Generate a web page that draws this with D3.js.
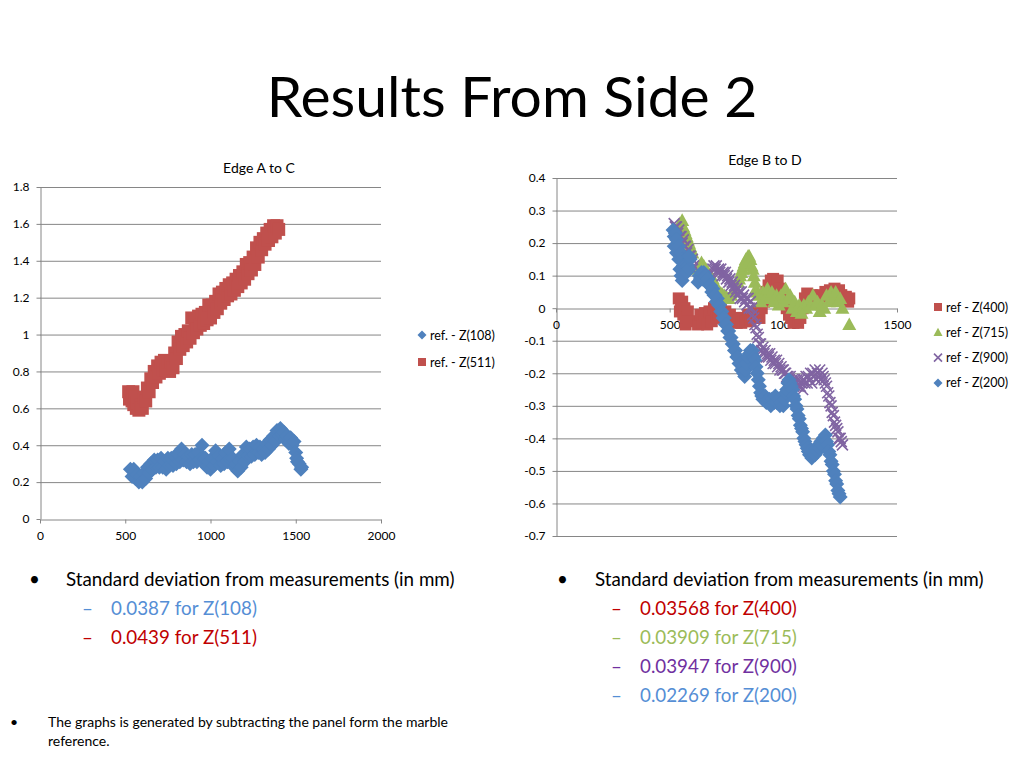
<!DOCTYPE html>
<html lang="en">
<head>
<meta charset="UTF-8">
<title>Results From Side 2</title>
<script src="https://d3js.org/d3.v7.min.js"></script>
<style>
  html, body { margin: 0; background: #fff; }
  svg { display: block; font-family: Lato, "Open Sans", sans-serif; }
  .axis path, .axis line { stroke: #868686; }
  .axis text { font-size: 12px; fill: #000; font-family: Lato, sans-serif; }
  .grid line { stroke: #868686; stroke-width: 1; }
  .chart-title { font-size: 14px; text-anchor: middle; }
  .legend text { font-size: 12.5px; }
</style>
</head>
<body>
<svg id="slide" width="1024" height="768"></svg>
<script>
// ---- Edge A to C ----
const acXTicks = [0, 500, 1000, 1500, 2000];
const acYTicks = [0, 0.2, 0.4, 0.6, 0.8, 1, 1.2, 1.4, 1.6, 1.8];

const z108 = [
  [530,0.27],[540,0.23],[550,0.27],[560,0.22],[570,0.24],[580,0.20],[590,0.23],[600,0.20],[610,0.25],[620,0.22],
  [630,0.28],[640,0.25],[650,0.30],[660,0.27],[670,0.32],[680,0.28],[690,0.32],[700,0.28],[710,0.33],[720,0.28],
  [730,0.31],[740,0.27],[750,0.33],[760,0.29],[770,0.33],[780,0.29],[790,0.34],[800,0.30],[810,0.35],[820,0.31],
  [830,0.38],[840,0.32],[850,0.35],[860,0.31],[870,0.34],[880,0.30],[890,0.35],[900,0.31],[910,0.35],[920,0.31],
  [930,0.36],[940,0.32],[950,0.40],[960,0.33],[970,0.33],[980,0.28],[990,0.31],[1000,0.27],[1010,0.33],[1020,0.29],
  [1030,0.37],[1040,0.31],[1050,0.34],[1060,0.29],[1070,0.33],[1080,0.30],[1090,0.36],[1100,0.31],[1110,0.38],[1120,0.32],
  [1130,0.33],[1140,0.28],[1150,0.30],[1160,0.26],[1170,0.31],[1180,0.28],[1190,0.35],[1200,0.31],[1210,0.39],[1220,0.34],
  [1230,0.38],[1240,0.34],[1250,0.39],[1260,0.35],[1270,0.40],[1280,0.36],[1290,0.39],[1300,0.35],[1310,0.38],[1320,0.36],
  [1330,0.41],[1340,0.38],[1350,0.43],[1360,0.40],[1370,0.45],[1380,0.42],[1390,0.48],[1400,0.45],[1410,0.49],[1420,0.46],
  [1430,0.47],[1440,0.43],[1450,0.45],[1460,0.41],[1470,0.44],[1480,0.40],[1490,0.42],[1500,0.36],[1505,0.33],[1510,0.31],
  [1520,0.30],[1530,0.27],[1535,0.28]
];

const z511 = [
  [520,0.69],[525,0.65],[530,0.68],[540,0.64],[545,0.69],[550,0.62],[560,0.66],[565,0.60],[570,0.63],[580,0.59],
  [590,0.62],[600,0.60],[610,0.66],[620,0.64],[630,0.71],[640,0.69],[650,0.76],[660,0.74],[670,0.80],[680,0.77],
  [690,0.83],[700,0.79],[710,0.85],[720,0.81],[730,0.86],[740,0.81],[750,0.85],[760,0.80],[770,0.85],[780,0.82],
  [790,0.90],[800,0.87],[810,0.96],[820,0.92],[830,0.99],[840,0.94],[850,1.00],[860,0.96],[870,1.02],[880,0.98],
  [890,1.09],[900,1.01],[910,1.08],[920,1.03],[930,1.10],[940,1.05],[950,1.11],[960,1.06],[970,1.12],[980,1.08],
  [990,1.16],[1000,1.09],[1010,1.16],[1020,1.12],[1030,1.18],[1040,1.14],[1050,1.22],[1060,1.17],[1070,1.23],[1080,1.19],
  [1090,1.25],[1100,1.21],[1110,1.27],[1120,1.22],[1130,1.28],[1140,1.24],[1150,1.30],[1160,1.26],[1170,1.32],[1180,1.28],
  [1190,1.34],[1200,1.30],[1210,1.38],[1220,1.33],[1230,1.39],[1240,1.35],[1250,1.42],[1260,1.38],[1270,1.47],[1280,1.42],
  [1290,1.50],[1300,1.46],[1310,1.52],[1320,1.49],[1330,1.55],[1340,1.51],[1350,1.57],[1360,1.53],[1370,1.59],[1380,1.55],
  [1390,1.59],[1400,1.57]
];

// ---- Edge B to D ----
const bdXTicks = [0, 500, 1000, 1500];
const bdYTicks = [0.4, 0.3, 0.2, 0.1, 0, -0.1, -0.2, -0.3, -0.4, -0.5, -0.6, -0.7];

const z400 = [
  [540,0.03],[550,0.01],[545,-0.01],[555,0.02],[560,-0.02],[565,0.0],[570,-0.05],[575,-0.03],[580,-0.01],[585,-0.04],
  [625,-0.05],[635,-0.02],[645,-0.045],[655,-0.015],[665,-0.05],[675,-0.01],[685,-0.04],[695,0.0],[705,-0.03],[715,-0.02],
  [725,0.0],[735,-0.02],[745,-0.01],[755,-0.03],[765,-0.02],[775,-0.04],[785,-0.03],[795,-0.045],[805,-0.03],[815,-0.045],
  [825,-0.03],[835,-0.04],[845,-0.02],[855,-0.04],[865,-0.02],[875,-0.03],[885,-0.01],[895,-0.03],[905,0.0],[915,0.02],
  [925,0.05],[935,0.07],[945,0.085],[955,0.09],[965,0.08],[975,0.085],[985,0.06],[995,0.04],[1005,0.02],[1015,0.0],
  [1025,-0.02],[1035,-0.03],[1045,-0.045],[1055,-0.04],[1065,-0.045],[1075,-0.03],[1085,0.0],[1095,0.03],[1105,0.045],[1115,0.03],
  [1125,0.04],[1135,0.02],[1145,0.03],[1155,0.02],[1165,0.04],[1175,0.03],[1185,0.05],[1195,0.04],[1205,0.055],[1215,0.05],
  [1225,0.06],[1235,0.05],[1245,0.055],[1255,0.04],[1265,0.03],[1275,0.035],[1285,0.02],[1290,0.03]
];

const z715 = [
  [540,0.24],[545,0.26],[550,0.25],[555,0.27],[560,0.25],[565,0.24],[570,0.23],[575,0.22],[580,0.21],[585,0.20],
  [590,0.19],[595,0.18],[600,0.17],
  [620,0.12],[630,0.13],[640,0.14],[650,0.13],[660,0.12],[670,0.11],[680,0.10],[690,0.09],[700,0.07],[710,0.06],
  [720,0.05],[730,0.045],[740,0.04],[750,0.035],[760,0.03],[770,0.04],[780,0.05],[790,0.06],
  [800,0.08],[805,0.09],[810,0.10],[815,0.11],[820,0.12],[825,0.13],[830,0.14],[835,0.15],[840,0.15],[845,0.16],
  [850,0.16],[855,0.15],[860,0.13],[865,0.12],[870,0.10],[875,0.08],[880,0.06],[885,0.05],
  [890,0.04],[900,0.02],[910,0.05],[920,0.03],[930,0.06],[940,0.03],[950,0.05],[960,0.02],[970,0.04],[980,0.01],
  [990,0.04],[1000,0.02],[1010,0.06],[1020,0.03],[1030,0.04],[1040,0.0],[1050,0.02],[1060,-0.01],[1070,0.01],[1080,-0.015],
  [1090,0.01],[1100,0.0],[1110,0.02],[1120,0.01],[1130,0.04],[1140,0.01],[1150,0.02],[1160,-0.01],[1170,0.01],[1180,0.0],
  [1190,0.04],[1200,0.02],[1210,0.05],[1220,0.03],[1230,0.05],[1240,0.02],[1250,0.03],[1260,0.0],[1290,-0.05]
];

const z900 = [
  [520,0.26],[525,0.25],[530,0.25],[535,0.23],[540,0.24],[545,0.22],[550,0.22],[555,0.20],[560,0.21],[565,0.19],
  [570,0.19],[575,0.17],[580,0.18],[585,0.16],[590,0.16],[595,0.14],[600,0.15],[600,0.12],[605,0.13],
  [690,0.12],[695,0.13],[700,0.12],[705,0.13],[710,0.11],[715,0.12],[720,0.11],[725,0.12],[730,0.10],[735,0.11],
  [740,0.10],[745,0.11],[750,0.09],[755,0.10],[760,0.08],[765,0.09],[770,0.07],[775,0.08],[780,0.06],[785,0.07],
  [790,0.05],[795,0.06],[800,0.04],[805,0.05],[810,0.03],[815,0.05],[820,0.03],[825,0.04],[830,0.02],[835,0.03],
  [840,0.01],[845,0.03],[850,0.0],[855,0.02],[860,0.0],[865,-0.02],[870,-0.03],[875,-0.05],[880,-0.06],[885,-0.08],
  [890,-0.09],[895,-0.11],[900,-0.11],[905,-0.13],[910,-0.12],[915,-0.14],[920,-0.13],[925,-0.15],[930,-0.14],[935,-0.15],
  [940,-0.14],[945,-0.16],[950,-0.15],[955,-0.17],[960,-0.16],[965,-0.17],[970,-0.16],[975,-0.18],[980,-0.17],[985,-0.19],
  [990,-0.18],[995,-0.19],[1000,-0.19],[1005,-0.20],[1010,-0.20],[1015,-0.21],[1020,-0.21],[1025,-0.22],[1030,-0.21],[1035,-0.23],
  [1040,-0.22],[1045,-0.24],[1050,-0.22],[1055,-0.24],[1060,-0.22],[1065,-0.24],[1070,-0.22],[1075,-0.24],[1080,-0.23],[1085,-0.25],
  [1090,-0.22],[1095,-0.23],[1100,-0.21],[1105,-0.23],[1110,-0.21],[1115,-0.22],[1120,-0.20],[1125,-0.23],[1130,-0.20],[1135,-0.21],
  [1140,-0.19],[1145,-0.22],[1150,-0.20],[1155,-0.21],[1160,-0.19],[1165,-0.22],[1170,-0.20],[1175,-0.21],[1180,-0.22],[1185,-0.23],
  [1190,-0.24],[1195,-0.26],[1200,-0.27],[1205,-0.29],[1210,-0.30],[1215,-0.32],[1220,-0.33],[1225,-0.35],[1230,-0.36],[1235,-0.37],
  [1240,-0.38],[1245,-0.40],[1250,-0.40],[1255,-0.41],[1260,-0.42]
];

const z200 = [
  [515,0.24],[520,0.22],[525,0.23],[520,0.19],[530,0.21],[530,0.17],[540,0.19],[540,0.15],[550,0.17],[545,0.12],
  [555,0.15],[550,0.10],[560,0.13],[555,0.085],[565,0.11],[570,0.13],[575,0.11],[580,0.13],[585,0.12],[590,0.15],[585,0.16],
  [625,0.08],[630,0.10],[635,0.09],[640,0.11],[645,0.09],[650,0.11],[655,0.10],[660,0.10],[665,0.08],[670,0.09],
  [675,0.07],[680,0.07],[685,0.05],[690,0.06],[695,0.04],[700,0.04],[705,0.02],[710,0.03],[715,0.01],[720,0.01],
  [725,-0.01],[730,-0.01],[735,-0.03],[740,-0.03],[745,-0.05],[750,-0.05],[755,-0.07],[760,-0.07],[765,-0.09],[770,-0.09],
  [775,-0.11],[780,-0.11],[785,-0.13],[790,-0.13],[795,-0.15],[800,-0.15],[805,-0.17],[810,-0.17],[815,-0.19],[820,-0.18],
  [825,-0.20],[830,-0.21],[833,-0.19],[838,-0.17],[843,-0.15],[850,-0.14],[855,-0.13],[860,-0.14],[865,-0.13],[870,-0.15],
  [875,-0.16],[880,-0.18],[885,-0.20],[890,-0.22],[895,-0.24],[900,-0.26],[905,-0.27],[910,-0.28],[920,-0.27],[925,-0.29],
  [930,-0.28],[940,-0.28],[945,-0.30],[950,-0.28],[960,-0.29],[965,-0.27],[970,-0.29],[980,-0.28],[985,-0.30],[990,-0.29],
  [1000,-0.30],[1005,-0.28],[1010,-0.26],[1015,-0.25],[1020,-0.23],[1025,-0.22],[1030,-0.23],[1035,-0.24],[1040,-0.25],[1045,-0.27],
  [1050,-0.28],[1055,-0.30],[1060,-0.31],[1065,-0.33],[1070,-0.34],[1075,-0.36],[1080,-0.37],[1085,-0.38],[1090,-0.40],[1095,-0.41],
  [1100,-0.42],[1105,-0.43],[1110,-0.44],[1115,-0.45],[1120,-0.44],[1125,-0.46],[1130,-0.45],[1135,-0.44],[1140,-0.45],[1145,-0.43],
  [1150,-0.44],[1155,-0.42],[1160,-0.43],[1165,-0.41],[1170,-0.42],[1175,-0.40],[1180,-0.41],[1185,-0.39],[1190,-0.41],[1195,-0.42],
  [1200,-0.44],[1205,-0.45],[1210,-0.47],[1215,-0.48],[1220,-0.50],[1225,-0.51],[1230,-0.53],[1235,-0.54],[1240,-0.56],[1245,-0.57],
  [1250,-0.58]
];

const leftNotes = [
  { text: "0.0387 for Z(108)", color: "#558ed5" },
  { text: "0.0439 for Z(511)", color: "#c00000" }
];
const rightNotes = [
  { text: "0.03568 for Z(400)", color: "#c00000" },
  { text: "0.03909 for Z(715)", color: "#9bbb59" },
  { text: "0.03947 for Z(900)", color: "#7030a0" },
  { text: "0.02269 for Z(200)", color: "#558ed5" }
];

const svg = d3.select("#slide");

// marker shapes
function marker(g, shape, size, color) {
  const r = size / 2;
  if (shape === "diamond") {
    g.append("path").attr("d", `M0,${-r}L${r},0L0,${r}L${-r},0Z`).attr("fill", color);
  } else if (shape === "square") {
    g.append("rect").attr("x", -r).attr("y", -r).attr("width", size).attr("height", size).attr("fill", color);
  } else if (shape === "triangle") {
    g.append("path").attr("d", `M0,${-r}L${r},${r * 0.8}L${-r},${r * 0.8}Z`).attr("fill", color);
  } else {
    g.append("path").attr("d", `M${-r},${-r}L${r},${r}M${r},${-r}L${-r},${r}`)
      .attr("stroke", color).attr("stroke-width", 1.6).attr("fill", "none");
  }
}

function drawChart(cfg) {
  const x = d3.scaleLinear().domain(cfg.xDomain).range(cfg.xRange);
  const y = d3.scaleLinear().domain(cfg.yDomain).range(cfg.yRange);
  const fmt = d => String(+d.toFixed(1));

  // gridlines
  svg.append("g").attr("class", "grid")
    .selectAll("line").data(cfg.yTicks.filter(t => t !== 0)).join("line")
    .attr("x1", cfg.xRange[0]).attr("x2", cfg.xRange[1])
    .attr("y1", d => y(d) + 0.5).attr("y2", d => y(d) + 0.5);

  svg.append("g").attr("class", "axis")
    .attr("transform", `translate(${cfg.xRange[0] + 0.5},0)`)
    .call(d3.axisLeft(y).tickValues(cfg.yTicks).tickFormat(fmt).tickSize(4).tickPadding(7).tickSizeOuter(0));

  svg.append("g").attr("class", "axis")
    .attr("transform", `translate(0,${Math.round(y(0)) + 0.5})`)
    .call(d3.axisBottom(x).tickValues(cfg.xTicks).tickFormat(fmt).tickSize(4).tickPadding(8).tickSizeOuter(0));

  svg.append("text").attr("class", "chart-title")
    .attr("x", cfg.titleX).attr("y", cfg.titleY).text(cfg.title);

  cfg.series.forEach(s => {
    const g = svg.append("g");
    s.data.forEach(d => {
      const m = g.append("g").attr("transform", `translate(${x(d[0])},${y(d[1])})`);
      marker(m, s.shape, s.size, s.color);
    });
  });

  const lg = svg.append("g").attr("class", "legend");
  cfg.series.forEach((s, i) => {
    const yy = cfg.legendY + i * cfg.legendGap;
    const m = lg.append("g").attr("transform", `translate(${cfg.legendX},${yy})`);
    marker(m, s.shape, s.legendSize, s.color);
    lg.append("text").attr("x", cfg.legendX + 8).attr("y", yy + 4.5).text(s.name);
  });
}

drawChart({
  title: "Edge A to C", titleX: 259, titleY: 173,
  xDomain: [0, 2000], xRange: [40, 381],
  yDomain: [0, 1.8], yRange: [519, 187],
  xTicks: acXTicks, yTicks: acYTicks,
  legendX: 422, legendY: 335, legendGap: 27,
  series: [
    { name: "ref. - Z(108)", data: z108, shape: "diamond", size: 15, legendSize: 9, color: "#4f81bd" },
    { name: "ref. - Z(511)", data: z511, shape: "square", size: 13, legendSize: 8, color: "#c0504d" }
  ]
});

drawChart({
  title: "Edge B to D", titleX: 765, titleY: 165,
  xDomain: [0, 1500], xRange: [556, 897],
  yDomain: [-0.7, 0.4], yRange: [536, 178],
  xTicks: bdXTicks, yTicks: bdYTicks,
  legendX: 938, legendY: 307, legendGap: 25.3,
  series: [
    { name: "ref - Z(400)", data: z400, shape: "square", size: 12, legendSize: 8, color: "#c0504d" },
    { name: "ref - Z(715)", data: z715, shape: "triangle", size: 14, legendSize: 9, color: "#9bbb59" },
    { name: "ref - Z(900)", data: z900, shape: "x", size: 11, legendSize: 8, color: "#8064a2" },
    { name: "ref - Z(200)", data: z200, shape: "diamond", size: 15, legendSize: 9, color: "#4f81bd" }
  ]
});

// slide title
svg.append("text").attr("x", 512).attr("y", 117).attr("text-anchor", "middle")
  .style("font-size", "57px").text("Results From Side 2");

// bullet lists
function bulletList(bx, tx, dx, dtx, notes) {
  svg.append("text").attr("x", bx).attr("y", 586).style("font-size", "18.8px").text("\u2022");
  svg.append("text").attr("x", tx).attr("y", 586).style("font-size", "18.8px")
    .text("Standard deviation from measurements (in mm)");
  notes.forEach((n, i) => {
    const yy = 615 + i * 29;
    svg.append("text").attr("x", dx).attr("y", yy).style("font-size", "18.8px").attr("fill", n.color).text("\u2013");
    svg.append("text").attr("x", dtx).attr("y", yy).style("font-size", "18.8px").attr("fill", n.color).text(n.text);
  });
}
bulletList(29, 66, 82, 111, leftNotes);
bulletList(557, 595, 611, 640, rightNotes);

svg.append("text").attr("x", 10).attr("y", 727).style("font-size", "14px").text("\u2022");
svg.append("text").attr("x", 48).attr("y", 727).style("font-size", "14px")
  .text("The graphs is generated by subtracting the panel form the marble");
svg.append("text").attr("x", 48).attr("y", 746).style("font-size", "14px").text("reference.");
</script>
</body>
</html>
